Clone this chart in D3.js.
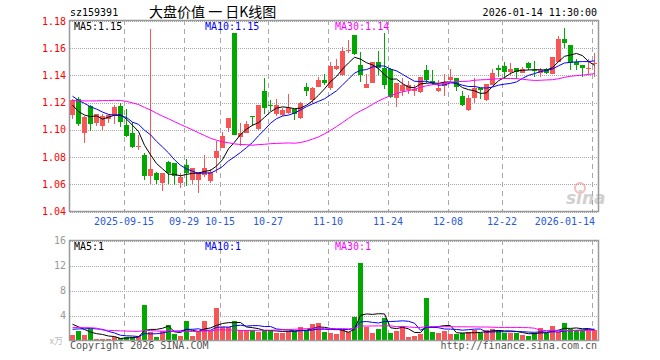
<!DOCTYPE html>
<html><head><meta charset="utf-8">
<script src="https://cdn.jsdelivr.net/npm/d3@7"></script>
<style>
html,body{margin:0;padding:0;background:#fff;}
svg{display:block;}
text{font-family:"DejaVu Sans Mono","Liberation Mono",monospace;}
</style></head><body>
<svg id="c" width="660" height="360"></svg>
<script>
const dates = ["2025-09-02","2025-09-03","2025-09-04","2025-09-05","2025-09-08","2025-09-09","2025-09-10","2025-09-11","2025-09-12",
"2025-09-15","2025-09-16","2025-09-17","2025-09-18","2025-09-19","2025-09-22","2025-09-23","2025-09-24","2025-09-25","2025-09-26",
"2025-09-29","2025-09-30","2025-10-09","2025-10-10","2025-10-13","2025-10-14",
"2025-10-15","2025-10-16","2025-10-17","2025-10-20","2025-10-21","2025-10-22","2025-10-23","2025-10-24",
"2025-10-27","2025-10-28","2025-10-29","2025-10-30","2025-10-31","2025-11-03","2025-11-04","2025-11-05","2025-11-06","2025-11-07",
"2025-11-10","2025-11-11","2025-11-12","2025-11-13","2025-11-14","2025-11-17","2025-11-18","2025-11-19","2025-11-20","2025-11-21",
"2025-11-24","2025-11-25","2025-11-26","2025-11-27","2025-11-28","2025-12-01","2025-12-02","2025-12-03","2025-12-04","2025-12-05",
"2025-12-08","2025-12-09","2025-12-10","2025-12-11","2025-12-12","2025-12-15","2025-12-16","2025-12-17","2025-12-18",
"2025-12-22","2025-12-23","2025-12-24","2025-12-25","2025-12-26","2025-12-29","2025-12-30","2025-12-31",
"2026-01-05","2026-01-06","2026-01-07","2026-01-08","2026-01-09","2026-01-12","2026-01-13","2026-01-14"];

const open  = [1.111,1.123,1.098,1.1176,1.105,1.103,1.108,1.110,1.1176,1.1034,1.0977,1.0875,1.0816,1.0664,1.0683,1.061,1.0767,1.0757,1.061,1.0742,
1.0632,1.0632,1.0666,1.0627,1.0794,1.087,1.1012,1.171,1.095,1.098,1.1105,1.1007,1.1286,1.118,1.1115,1.111,1.1122,1.1151,1.1085,1.1313,
1.122,1.1318,1.1367,1.1311,1.1448,1.1404,1.1585,1.1698,1.1477,1.1306,1.1343,1.1497,1.1458,1.1446,1.1232,1.1289,1.1294,1.1287,1.1279,1.1441,
1.136,1.1287,1.1323,1.1367,1.1379,1.125,1.1147,1.1237,1.1311,1.122,1.133,1.1453,1.1472,1.1428,1.1453,1.1421,1.1495,1.1442,1.1421,1.1446,
1.1411,1.1502,1.1669,1.162,1.1497,1.1477,1.1452,1.1483];
const high  = [1.123,1.124,1.110,1.118,1.112,1.112,1.1115,1.118,1.120,1.115,1.1056,1.096,1.083,1.174,1.069,1.0685,1.077,1.076,1.068,1.0789,
1.072,1.0693,1.0816,1.0713,1.092,1.0985,1.109,1.171,1.105,1.1066,1.1105,1.1183,1.138,1.122,1.1225,1.116,1.1264,1.1151,1.1205,1.1348,
1.1318,1.139,1.1411,1.1497,1.152,1.1612,1.1661,1.170,1.157,1.141,1.1497,1.1583,1.1715,1.1453,1.1348,1.1379,1.136,1.1333,1.1387,1.1477,
1.1441,1.1367,1.141,1.1446,1.1379,1.1282,1.1257,1.1379,1.1311,1.1338,1.1448,1.1477,1.150,1.1495,1.1453,1.1465,1.1502,1.1507,1.1453,1.1458,
1.1539,1.1693,1.1747,1.162,1.1522,1.1477,1.1519,1.1563];
const low   = [1.108,1.103,1.090,1.099,1.103,1.100,1.105,1.104,1.102,1.0946,1.087,1.085,1.063,1.060,1.060,1.0553,1.0605,1.0595,1.057,1.059,
1.060,1.0534,1.0657,1.0607,1.0686,1.0865,1.0985,1.096,1.088,1.0975,1.1027,1.100,1.112,1.1135,1.110,1.110,1.1118,1.107,1.108,1.125,
1.1196,1.1318,1.133,1.129,1.144,1.1399,1.1563,1.155,1.135,1.1306,1.1343,1.140,1.130,1.1233,1.1166,1.125,1.1264,1.125,1.1274,1.1343,
1.133,1.128,1.125,1.1362,1.1282,1.1176,1.1142,1.1196,1.1228,1.121,1.133,1.139,1.1375,1.1404,1.1372,1.1416,1.1441,1.1392,1.1387,1.1411,
1.1411,1.1502,1.160,1.1441,1.1441,1.1387,1.1411,1.1387];
const close = [1.122,1.104,1.1095,1.1046,1.1115,1.110,1.111,1.117,1.106,1.0955,1.0874,1.088,1.0664,1.0713,1.0632,1.068,1.0683,1.0659,1.0656,1.0686,
1.0718,1.0693,1.072,1.0693,1.0845,1.0955,1.109,1.0963,1.0975,1.1042,1.110,1.1183,1.1159,1.1176,1.118,1.1147,1.1159,1.1115,1.120,1.1284,
1.1306,1.1367,1.1348,1.147,1.147,1.158,1.159,1.1556,1.1404,1.1338,1.1497,1.1453,1.133,1.1245,1.1343,1.1328,1.1328,1.1303,1.1387,1.1367,
1.1343,1.1306,1.1353,1.1392,1.1318,1.1183,1.1232,1.1311,1.1294,1.1338,1.1421,1.1441,1.1428,1.1446,1.1428,1.1446,1.1453,1.1440,1.1441,1.1416,
1.1539,1.1669,1.1637,1.149,1.1473,1.1458,1.1454,1.1495];
const volume = [0.9,1.53,0.9,1.9,0.26,0.26,0.26,0.5,0.37,0.58,0.58,0.74,5.66,1.32,0.58,1.48,2.49,1.06,0.74,3.12,
0.74,1.53,3.12,1.53,5.19,2.22,2.22,3.12,1.64,1.64,1.64,1.43,1.64,1.64,1.27,1.27,1.6,1.6,2.2,1.6,
2.6,2.86,1.3,1.27,1.06,1.64,1.32,3.76,12.33,2.22,1.27,1.85,3.6,1.27,1.53,2.33,0.58,0.74,1.11,6.77,
1.38,1.16,1.53,1.06,1.06,1.16,1.32,1.64,1.27,1.64,1.85,1.64,1.27,1.27,1.27,0.9,0.74,1.27,1.96,1.27,
2.33,1.43,2.8,1.85,1.64,1.64,1.64,1.64];
// sessions before the visible window (needed for the moving averages)
const histClose = [1.108,1.112,1.106,1.110,1.104,1.112,1.110,1.110,1.115,1.120,1.125,1.130,1.128,1.135,1.132,1.126,1.130,1.128,1.128,1.130,
1.134,1.132,1.130,1.128,1.132,1.128,1.122,1.1106,1.1085];
const histVolume = [2.0,1.8,2.2,2.5,9.0,2.0,1.5,1.8,1.6,1.4,1.5,1.2,1.6,3.0,1.8,2.0,1.6,2.5,2.0,2.0,
1.0,0.8,1.2,1.0,1.0,3.6,3.0,4.0,1.5];

const priceTicks = [1.04,1.06,1.08,1.10,1.12,1.14,1.16,1.18];
const volTicks = [4,8,12,16];
const dateTicks = ["2025-09-15","2025-09-29","2025-10-15","2025-10-27","2025-11-10","2025-11-24","2025-12-08","2025-12-22","2026-01-14"];
const dateTickLabels = ["2025-09-15","09-29","10-15","10-27","11-10","11-24","12-08","12-22","2026-01-14"];
const maPeriods = [5,10,30];
const maColors = ["#000000","#0000ff","#ff00ff"];
const priceMaLabels = ["MA5:1.15","MA10:1.15","MA30:1.14"];
const volMaLabels = ["MA5:1","MA10:1","MA30:1"];

const svg = d3.select("#c");
const L = 70, R = 598;
const x = d3.scaleBand().domain(d3.range(dates.length)).range([L, R]);
const y = d3.scaleLinear().domain([1.04, 1.18]).range([211.5, 21]);
const yv = d3.scaleLinear().domain([0, 16]).range([340.5, 240.5]);
const UP = "#f65656", DOWN = "#00a800", GRID = "#a8a8a8";

function movingAvg(hist, vals, n) {
  const all = hist.concat(vals), h = hist.length;
  return vals.map((v, i) => d3.mean(all.slice(h + i - n + 1, h + i + 1)));
}

// ---- header ----
svg.append("text").attr("x", 70).attr("y", 16).attr("font-size", 10).attr("fill", "#000").text("sz159391");
svg.append("text").attr("x", 149).attr("y", 17).attr("font-size", 14)
  .style("font-family", "'Noto Sans CJK SC',sans-serif").attr("fill", "#000").text("大盘价值 一 日K线图");
svg.append("text").attr("x", 597).attr("y", 16).attr("text-anchor", "end").attr("font-size", 10).attr("fill", "#000").text("2026-01-14 11:30:00");

// ---- grids ----
function panel(top, bottom, yScale, ticks, labelColor, fmt) {
  const g = svg.append("g");
  g.selectAll(".h").data(ticks).join("line")
    .attr("x1", L).attr("x2", R)
    .attr("y1", d => Math.round(yScale(d)) + 0.5).attr("y2", d => Math.round(yScale(d)) + 0.5)
    .attr("stroke", GRID).attr("stroke-dasharray", "1,1").attr("shape-rendering", "crispEdges");
  g.selectAll(".v").data(dateTicks).join("line")
    .attr("x1", d => x(dates.indexOf(d)) + 0.5).attr("x2", d => x(dates.indexOf(d)) + 0.5)
    .attr("y1", top).attr("y2", bottom)
    .attr("stroke", GRID).attr("stroke-dasharray", "5,4").attr("shape-rendering", "crispEdges");
  g.selectAll(".t").data(ticks).join("text")
    .attr("x", 66).attr("y", d => yScale(d) + 3.5).attr("text-anchor", "end")
    .attr("font-size", 10).attr("fill", labelColor).text(fmt);
  return g;
}
panel(20, 211, y, priceTicks, "#ff0000", d => d.toFixed(2));
panel(240, 340, yv, volTicks, "#999999", d => d);

// x axis labels
svg.selectAll(".xl").data(dateTicks).join("text")
  .attr("x", (d, i) => i === dateTicks.length - 1 ? 595 : x(dates.indexOf(d)))
  .attr("y", 225)
  .attr("text-anchor", (d, i) => i === dateTicks.length - 1 ? "end" : "middle")
  .attr("font-size", 10).attr("fill", "#2a5bd7")
  .text((d, i) => dateTickLabels[i]);

// watermark
const wm = svg.append("g").attr("opacity", 0.55);
wm.append("circle").attr("cx", 580).attr("cy", 188).attr("r", 5).attr("fill", "none").attr("stroke", "#e88").attr("stroke-width", 2);
wm.append("text").attr("x", 566).attr("y", 204).attr("font-size", 17).attr("font-weight", "bold").attr("font-style", "italic")
  .style("font-family", "'DejaVu Sans',sans-serif").attr("fill", "#aaa").text("sina");

// ---- candles ----
const idx = d3.range(dates.length);
const cg = svg.append("g");
cg.selectAll(".wick").data(idx).join("line")
  .attr("x1", i => x(i) + 2.5).attr("x2", i => x(i) + 2.5)
  .attr("y1", i => y(high[i])).attr("y2", i => y(low[i]))
  .attr("stroke", i => close[i] >= open[i] ? UP : DOWN).attr("shape-rendering", "crispEdges");
cg.selectAll(".body").data(idx).join("rect")
  .attr("x", i => x(i)).attr("width", 5)
  .attr("y", i => y(Math.max(open[i], close[i])))
  .attr("height", i => Math.max(1, Math.abs(y(open[i]) - y(close[i]))))
  .attr("fill", i => close[i] >= open[i] ? UP : DOWN).attr("shape-rendering", "crispEdges");

// price MAs
maPeriods.forEach((n, k) => {
  const m = movingAvg(histClose, close, n);
  svg.append("path").datum(idx)
    .attr("d", d3.line().x(i => x(i) + 2.5).y(i => y(m[i])))
    .attr("fill", "none").attr("stroke", maColors[k]).attr("stroke-width", 1);
});

// ---- volume ----
svg.selectAll(".vb").data(idx).join("rect")
  .attr("x", i => x(i)).attr("width", 5)
  .attr("y", i => yv(volume[i])).attr("height", i => 340.5 - yv(volume[i]))
  .attr("fill", i => close[i] >= open[i] ? UP : DOWN).attr("shape-rendering", "crispEdges");
maPeriods.forEach((n, k) => {
  const m = movingAvg(histVolume, volume, n);
  svg.append("path").datum(idx)
    .attr("d", d3.line().x(i => x(i) + 2.5).y(i => yv(m[i])))
    .attr("fill", "none").attr("stroke", maColors[k]).attr("stroke-width", 1);
});

// frames
svg.append("rect").attr("x", 69.5).attr("y", 20.5).attr("width", 529).attr("height", 191)
  .attr("fill", "none").attr("stroke", "#999").attr("stroke-width", 1.5);
svg.append("rect").attr("x", 69.5).attr("y", 240.5).attr("width", 529).attr("height", 100)
  .attr("fill", "none").attr("stroke", "#999").attr("stroke-width", 1.5);

// MA labels
const labX = [74, 205, 335];
priceMaLabels.forEach((t, k) => svg.append("text").attr("x", labX[k]).attr("y", 30).attr("font-size", 10).attr("fill", maColors[k]).text(t));
volMaLabels.forEach((t, k) => svg.append("text").attr("x", labX[k]).attr("y", 250).attr("font-size", 10).attr("fill", maColors[k]).text(t));

// footer
svg.append("text").attr("x", 63).attr("y", 344).attr("text-anchor", "end").attr("font-size", 9)
  .style("font-family", "'Noto Sans CJK SC',sans-serif").attr("fill", "#bbb").text("x万");
svg.append("text").attr("x", 70).attr("y", 349).attr("font-size", 10).attr("fill", "#555").text("Copyright 2026 SINA.COM");
svg.append("text").attr("x", 597).attr("y", 349).attr("text-anchor", "end").attr("font-size", 10).attr("fill", "#555").text("http://finance.sina.com.cn");
</script>
</body></html>
